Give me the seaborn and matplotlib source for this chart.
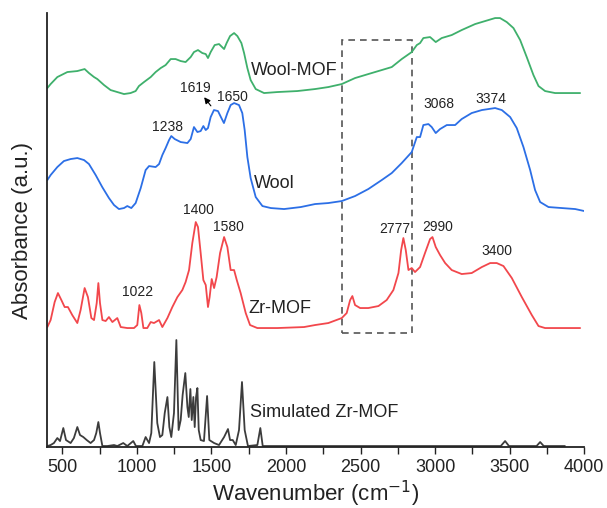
import matplotlib
matplotlib.use("Agg")
import matplotlib.pyplot as plt
from matplotlib.patches import Rectangle
import seaborn as sns
import pandas as pd

# spectra (wavenumber in cm-1, absorbance in arbitrary offset units)
green_wn = [400, 422, 467, 534, 601, 650, 679, 713, 735, 780, 824, 869, 914, 958, 992, 1014, 1048, 1093,
            1126, 1160, 1193, 1227, 1260, 1294, 1327, 1361, 1383, 1410, 1439, 1462, 1477, 1495, 1522, 1551,
            1585, 1602, 1625, 1652, 1674, 1701, 1719, 1741, 1763, 1797, 1853, 1942, 2076, 2195, 2284, 2374,
            2463, 2552, 2642, 2709, 2776, 2843, 2877, 2899, 2921, 2966, 3004, 3044, 3111, 3178, 3268, 3335,
            3402, 3435, 3480, 3525, 3570, 3614, 3659, 3693, 3737, 3804, 3894, 3972]
green_ab = [359, 363, 370, 375, 376, 378, 374, 370, 368, 362, 357, 355, 353, 354, 356, 361, 365, 370,
            375, 379, 382, 388, 388, 386, 385, 390, 395, 397, 394, 393, 389, 395, 402, 403,
            398, 404, 411, 414, 411, 404, 394, 379, 367, 358, 354, 355, 356, 358, 360, 363,
            369, 373, 377, 380, 388, 395, 402, 404, 409, 410, 405, 409, 412, 417, 423, 426,
            429, 429, 425, 419, 407, 390, 372, 361, 356, 354, 354, 354]

blue_wn = [400, 422, 467, 511, 556, 601, 646, 679, 724, 768, 813, 847, 880, 914, 936, 963, 992, 1026,
           1059, 1082, 1126, 1149, 1171, 1193, 1216, 1231, 1254, 1294, 1339, 1361, 1383, 1406, 1428, 1446,
           1462, 1477, 1495, 1517, 1544, 1567, 1584, 1607, 1629, 1652, 1685, 1707, 1723, 1741, 1763, 1797,
           1842, 1898, 1987, 2099, 2195, 2284, 2374, 2463, 2552, 2642, 2709, 2776, 2843, 2877, 2899, 2921,
           2955, 2977, 3004, 3033, 3078, 3134, 3178, 3245, 3313, 3402, 3447, 3503, 3547, 3592, 3637, 3670,
           3704, 3760, 3849, 3939, 4000]
blue_ab = [267, 272, 280, 286, 288, 289, 287, 283, 272, 260, 249, 242, 238, 239, 241, 239, 244, 259,
           277, 281, 280, 283, 292, 299, 307, 311, 308, 305, 304, 308, 320, 315, 316, 321,
           317, 319, 330, 337, 336, 329, 324, 334, 342, 344, 342, 334, 317, 290, 269, 250,
           241, 239, 238, 240, 243, 244, 246, 251, 258, 267, 274, 284, 295, 310, 310, 322,
           323, 320, 314, 318, 322, 322, 328, 334, 337, 339, 337, 330, 319, 300, 277, 257,
           245, 240, 239, 238, 236]

red_wn = [400, 422, 449, 471, 494, 516, 538, 567, 601, 623, 650, 672, 695, 713, 731, 742, 753, 769,
          791, 813, 836, 869, 892, 936, 981, 1003, 1017, 1030, 1044, 1070, 1093, 1115, 1149, 1171, 1205,
          1238, 1272, 1305, 1327, 1350, 1372, 1395, 1410, 1428, 1446, 1462, 1477, 1488, 1502, 1518, 1535,
          1558, 1585, 1607, 1629, 1652, 1670, 1696, 1730, 1759, 1808, 1942, 2121, 2195, 2284, 2374, 2407,
          2430, 2445, 2463, 2497, 2552, 2620, 2675, 2720, 2754, 2772, 2787, 2803, 2821, 2843, 2865, 2899,
          2932, 2966, 2982, 3004, 3033, 3067, 3111, 3178, 3245, 3313, 3369, 3413, 3458, 3514, 3581, 3648,
          3693, 3737, 3849, 3972]
red_ab = [120, 127, 145, 154, 147, 140, 140, 132, 124, 137, 159, 150, 129, 127, 144, 164, 144, 127,
          126, 130, 125, 129, 120, 119, 119, 122, 142, 134, 119, 119, 125, 124, 127, 120, 129,
          140, 150, 157, 165, 177, 204, 225, 220, 194, 167, 162, 140, 150, 168, 159, 170,
          194, 210, 200, 177, 177, 167, 154, 134, 122, 119, 119, 120, 122, 124, 129, 134,
          147, 151, 142, 139, 139, 141, 147, 157, 174, 197, 209, 197, 177, 179, 175, 180,
          194, 208, 210, 200, 192, 184, 177, 173, 174, 180, 184, 184, 181, 169, 150, 132,
          121, 119, 119, 119]

sim_wn = [400, 422, 444, 467, 485, 507, 525, 556, 578, 601, 619, 641, 664, 690, 713, 728, 742, 753,
          769, 802, 847, 869, 909, 936, 976, 994, 1037, 1059, 1082, 1097, 1117, 1137, 1155, 1171, 1187,
          1205, 1218, 1231, 1249, 1265, 1280, 1294, 1307, 1325, 1339, 1348, 1359, 1368, 1379, 1388, 1397,
          1406, 1415, 1428, 1450, 1471, 1486, 1518, 1551, 1585, 1611, 1625, 1643, 1663, 1685, 1705, 1723,
          1745, 1808, 1828, 1844, 1898, 2500, 3000, 3440, 3469, 3495, 3680, 3704, 3728, 3830, 3850, 3870]
sim_ab = [1, 2, 4, 9, 6, 19, 7, 4, 9, 20, 12, 10, 7, 4, 7, 14, 25, 14,
          1, 1, 2, 1, 4, 1, 6, 1, 1, 10, 4, 14, 85, 24, 10, 12, 34,
          50, 20, 10, 34, 107, 17, 27, 52, 74, 40, 30, 58, 27, 50, 20, 50,
          59, 17, 7, 6, 51, 7, 4, 2, 10, 18, 7, 7, 2, 17, 65, 17,
          1, 2, 19, 1, 1, 1, 1, 1, 6, 1, 1, 5, 1, 1, 1, 1]

series_names = ["Wool-MOF", "Wool", "Zr-MOF", "Simulated Zr-MOF"]
series_colors = ["#3fb06c", "#2c6fe6", "#f2474c", "#3c3c3c"]

# label texts and where they sit (wavenumber, absorbance)
series_label_pos = [(1765, 377), (1788, 264), (1747, 139), (1760, 35)]
peak_labels = ["1619", "1650", "1238", "3068", "3374", "1400", "1580", "1022", "2777", "2990", "3400"]
peak_label_pos = [(1394, 359), (1640, 350), (1207, 320), (3024, 343), (3371, 348), (1410, 237),
                  (1611, 220), (1006, 155), (2727, 218), (3015, 220), (3415, 196)]

box_x = (2374, 2843)
box_y = (114, 407)

frames = []
for name, wn, ab in zip(series_names, [green_wn, blue_wn, red_wn, sim_wn],
                        [green_ab, blue_ab, red_ab, sim_ab]):
    frames.append(pd.DataFrame({"wavenumber": wn, "absorbance": ab, "sample": name}))
df = pd.concat(frames, ignore_index=True)

sns.set_style("ticks")
plt.rcParams["font.family"] = ["Liberation Sans", "DejaVu Sans"]

fig = plt.figure(figsize=(6.07, 5.08), dpi=100)
ax = fig.add_axes([0.078, 0.120, 0.8846, 0.8543])

sns.lineplot(data=df, x="wavenumber", y="absorbance", hue="sample", hue_order=series_names,
             palette=series_colors, estimator=None, sort=False, linewidth=1.3, legend=False, ax=ax)

ax.add_patch(Rectangle((box_x[0], box_y[0]), box_x[1] - box_x[0], box_y[1] - box_y[0],
                       fill=False, linestyle=(0, (4, 3)), edgecolor="#555555", linewidth=1.2))

for name, (x, y) in zip(series_names, series_label_pos):
    ax.text(x, y, name, fontsize=13, ha="left", va="center", color="#222222")

for lab, (x, y) in zip(peak_labels, peak_label_pos):
    ax.text(x, y, lab, fontsize=10, ha="center", va="center", color="#222222")

ax.annotate("", xy=(1440, 352), xytext=(1508, 339),
            arrowprops=dict(arrowstyle="-|>", color="black", lw=0.8, mutation_scale=9))

ax.set_xlim(400, 4000)
ax.set_ylim(0, 434)
ax.set_xticks(range(500, 4001, 500))
ax.set_xticks(range(750, 4000, 500), minor=True)
ax.set_yticks([])
ax.tick_params(axis="x", which="both", direction="out", length=5, width=1, labelsize=13, colors="#222222")
ax.set_xlabel("Wavenumber (cm$^{-1}$)", fontsize=16, color="#222222", labelpad=2)
ax.set_ylabel("Absorbance (a.u.)", fontsize=16, color="#222222", labelpad=10)
sns.despine(ax=ax)
for s in ["left", "bottom"]:
    ax.spines[s].set_linewidth(1.3)
    ax.spines[s].set_color("#222222")

fig.savefig("out.png", dpi=100)
